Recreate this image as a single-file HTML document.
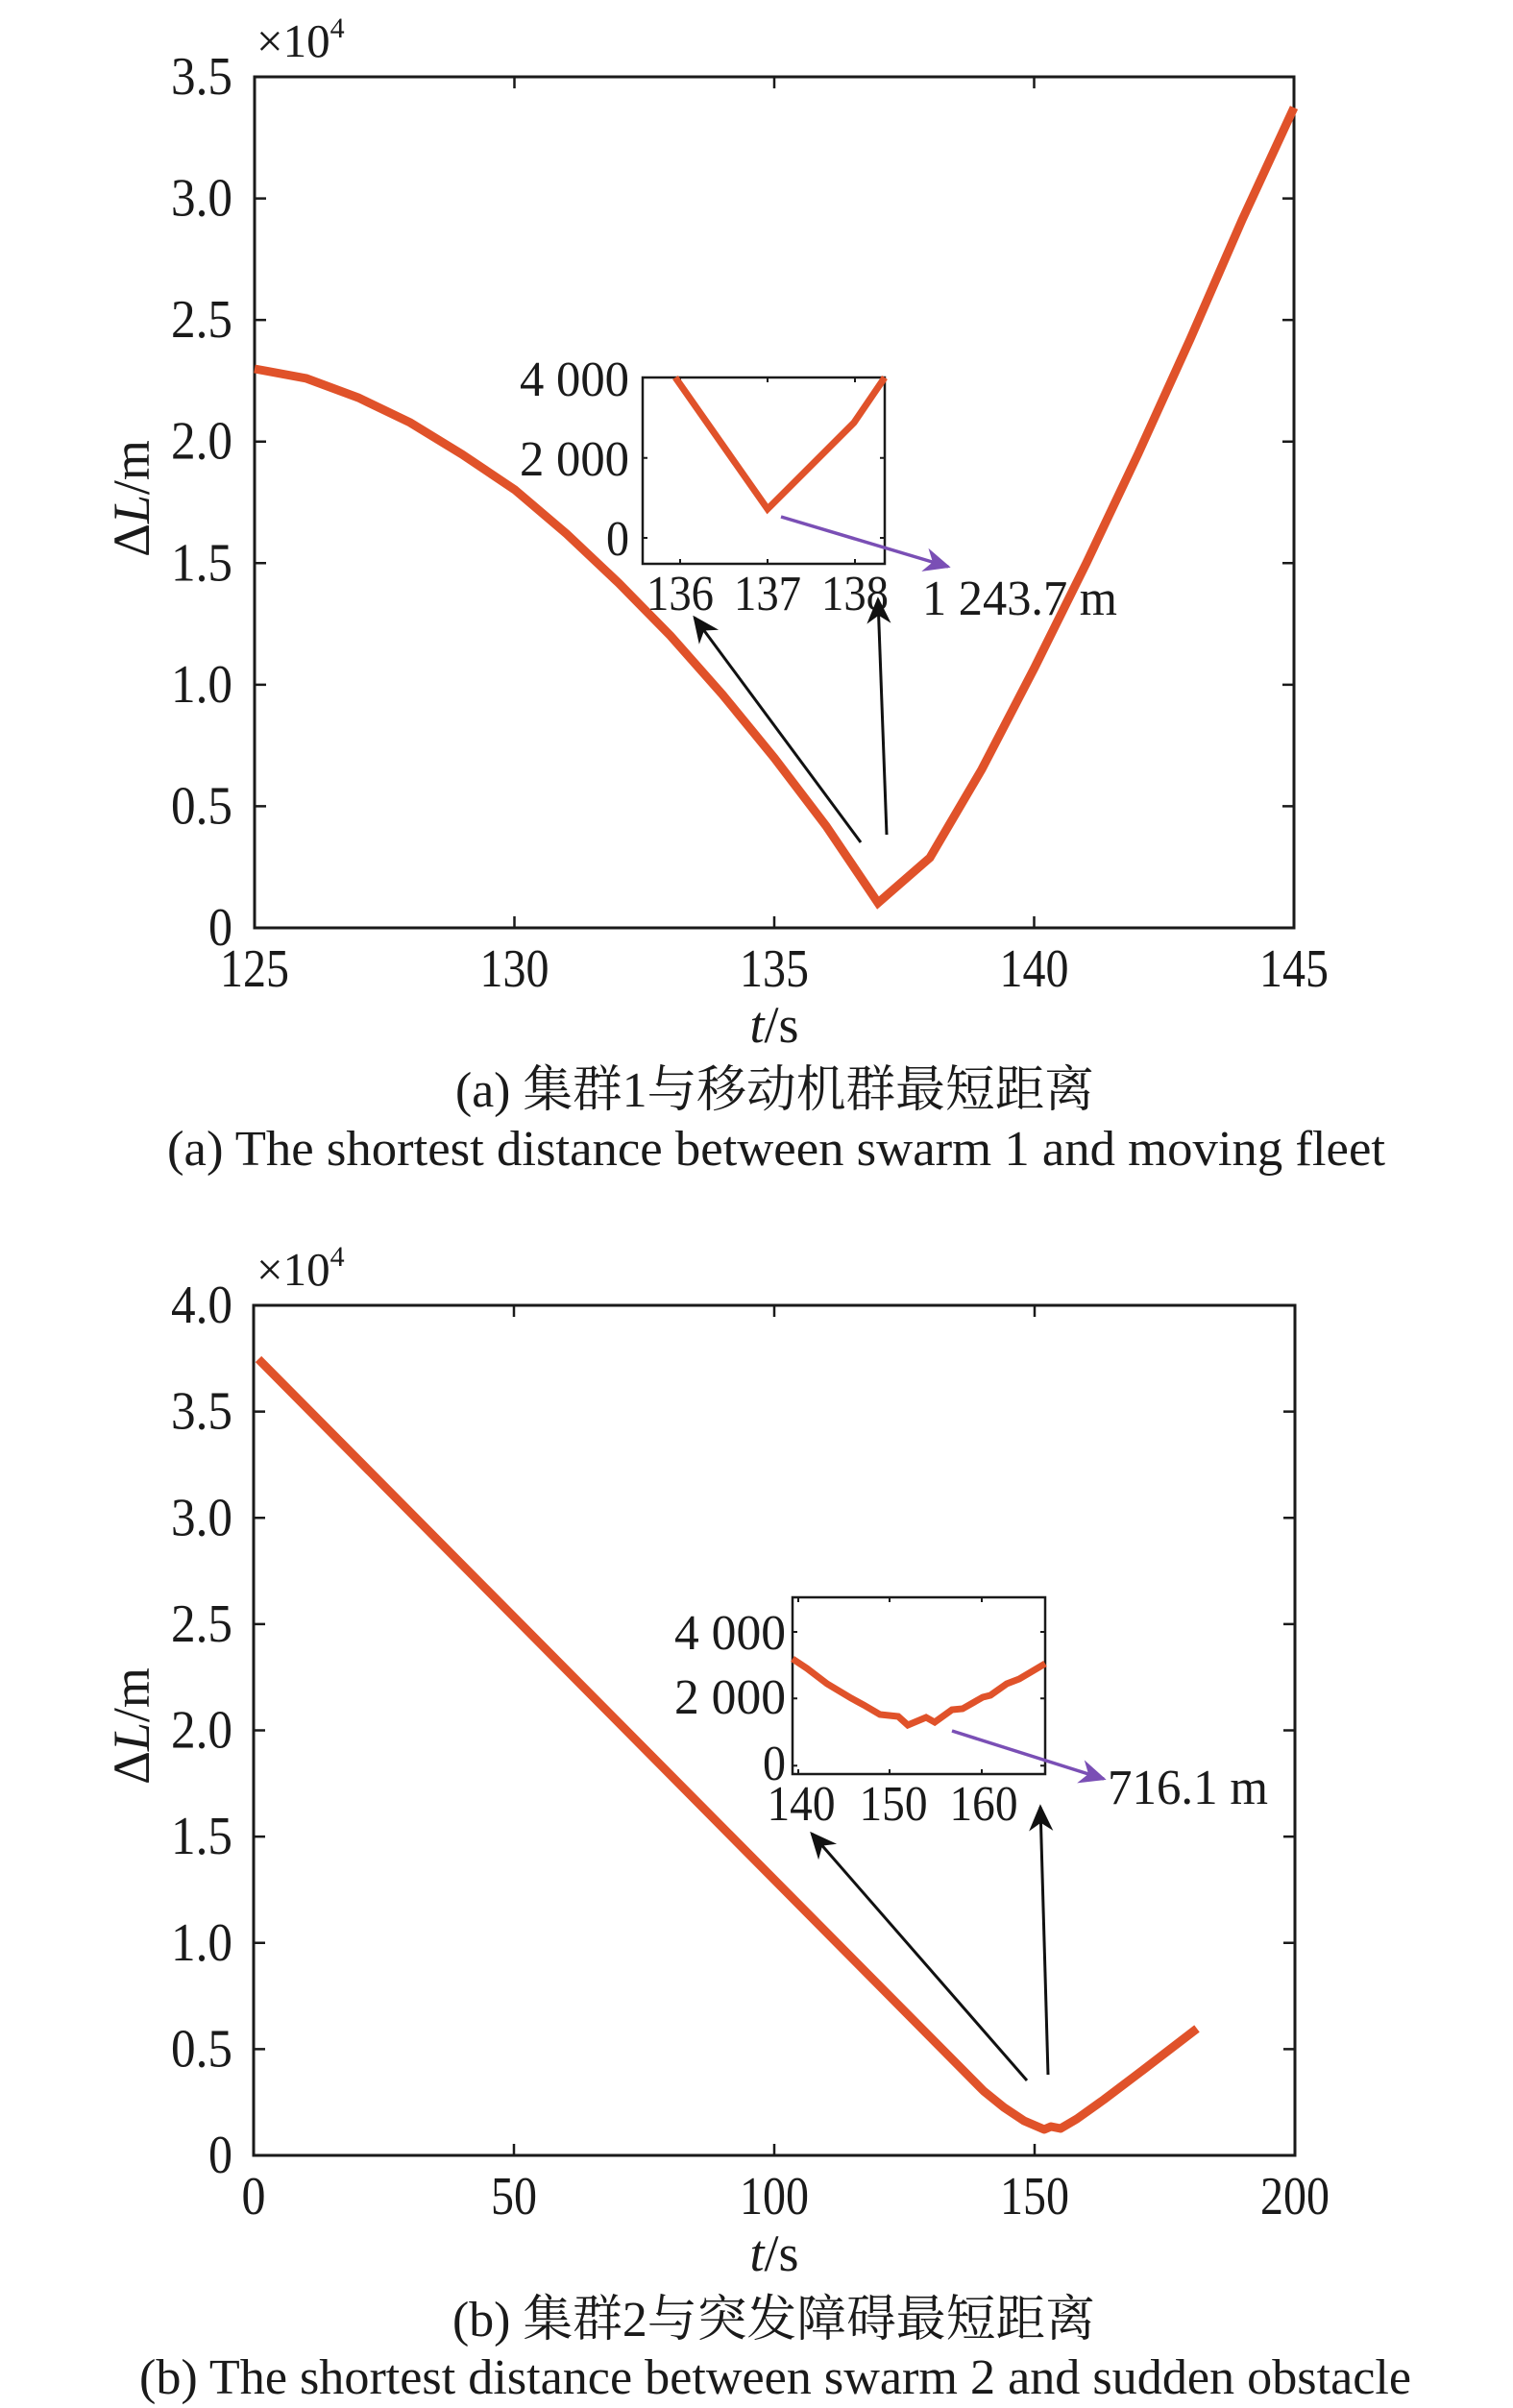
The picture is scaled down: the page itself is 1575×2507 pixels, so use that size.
<!DOCTYPE html>
<html><head><meta charset="utf-8"><style>html,body{margin:0;padding:0;background:#fff}svg{display:block}</style></head>
<body>
<svg width="1575" height="2507" viewBox="0 0 1575 2507" xmlns="http://www.w3.org/2000/svg" font-family="'Liberation Serif','Noto Serif CJK SC',serif" fill="#1a1a1a">
<defs>
<marker id="ab" viewBox="0 0 10 10" refX="9" refY="5" markerWidth="28" markerHeight="28" markerUnits="userSpaceOnUse" orient="auto"><path d="M0,0.5 L10,5 L0,9.5 L3,5z" fill="#111"/></marker>
<marker id="ap" viewBox="0 0 10 10" refX="9" refY="5" markerWidth="28" markerHeight="28" markerUnits="userSpaceOnUse" orient="auto"><path d="M0,0.5 L10,5 L0,9.5 L3,5z" fill="#7a4fb5"/></marker>
</defs>

<!-- ===== PLOT A ===== -->
<rect x="265" y="80" width="1082" height="886" fill="none" stroke="#1a1a1a" stroke-width="3"/>
<g stroke="#1a1a1a" stroke-width="2.5">
<path d="M535.5,966v-12M806,966v-12M1076.5,966v-12M535.5,80v12M806,80v12M1076.5,80v12"/>
<path d="M265,839.4h12M265,712.9h12M265,586.3h12M265,459.7h12M265,333.1h12M265,206.6h12M1347,839.4h-12M1347,712.9h-12M1347,586.3h-12M1347,459.7h-12M1347,333.1h-12M1347,206.6h-12"/>
</g>
<g font-size="56" text-anchor="end">
<text x="242" y="98" textLength="64" lengthAdjust="spacingAndGlyphs">3.5</text>
<text x="242" y="224.6" textLength="64" lengthAdjust="spacingAndGlyphs">3.0</text>
<text x="242" y="351.1" textLength="64" lengthAdjust="spacingAndGlyphs">2.5</text>
<text x="242" y="477.7" textLength="64" lengthAdjust="spacingAndGlyphs">2.0</text>
<text x="242" y="604.3" textLength="64" lengthAdjust="spacingAndGlyphs">1.5</text>
<text x="242" y="730.9" textLength="64" lengthAdjust="spacingAndGlyphs">1.0</text>
<text x="242" y="857.4" textLength="64" lengthAdjust="spacingAndGlyphs">0.5</text>
<text x="242" y="984" textLength="25" lengthAdjust="spacingAndGlyphs">0</text>
</g>
<g font-size="56" text-anchor="middle">
<text x="265" y="1027" textLength="72" lengthAdjust="spacingAndGlyphs">125</text><text x="535.5" y="1027" textLength="72" lengthAdjust="spacingAndGlyphs">130</text><text x="806" y="1027" textLength="72" lengthAdjust="spacingAndGlyphs">135</text><text x="1076.5" y="1027" textLength="72" lengthAdjust="spacingAndGlyphs">140</text><text x="1347" y="1027" textLength="72" lengthAdjust="spacingAndGlyphs">145</text>
</g>
<text x="267" y="59" font-size="49">×10<tspan font-size="30" dy="-20">4</tspan></text>
<text transform="translate(155,519) rotate(-90)" font-size="54" text-anchor="middle">Δ<tspan font-style="italic">L</tspan>/m</text>
<text x="806" y="1085" font-size="54" text-anchor="middle"><tspan font-style="italic">t</tspan>/s</text>
<text x="474" y="1152" font-size="52" textLength="665" lengthAdjust="spacingAndGlyphs">(a) 集群1与移动机群最短距离</text>
<text x="174" y="1213" font-size="52" textLength="1268" lengthAdjust="spacingAndGlyphs">(a) The shortest distance between swarm 1 and  moving fleet</text>

<polyline fill="none" stroke="#e0522a" stroke-width="9" stroke-linejoin="miter" points="265,384 319,394 373,414 427,440 481,473 536,510 590,556 644,607 698,662 752,723 806,789 860,860 914,940 968,893 1022,801 1077,695 1131,586 1185,472 1239,353 1293,229 1347,112"/>

<!-- inset a -->
<rect x="669" y="393" width="252" height="194" fill="#fff" stroke="#1a1a1a" stroke-width="2.5"/>
<g stroke="#1a1a1a" stroke-width="2"><path d="M708,587v-5M799,587v-5M890,587v-5M708,393v5M799,393v5M890,393v5M669,476.7h5M669,560h5M921,476.7h-5M921,560h-5"/></g>
<polyline fill="none" stroke="#e0522a" stroke-width="7" points="703,393 799,530 889,440 921,393"/>
<g font-size="52">
<text x="655" y="412" text-anchor="end" textLength="114" lengthAdjust="spacingAndGlyphs">4 000</text>
<text x="655" y="495" text-anchor="end" textLength="114" lengthAdjust="spacingAndGlyphs">2 000</text>
<text x="655" y="578" text-anchor="end" textLength="24" lengthAdjust="spacingAndGlyphs">0</text>
<text x="673" y="635" textLength="70" lengthAdjust="spacingAndGlyphs">136</text>
<text x="764" y="635" textLength="70" lengthAdjust="spacingAndGlyphs">137</text>
<text x="855" y="635" textLength="70" lengthAdjust="spacingAndGlyphs">138</text>
<text x="960" y="640" textLength="203" lengthAdjust="spacingAndGlyphs">1 243.7 m</text>
</g>
<line x1="813" y1="538" x2="987" y2="590" stroke="#7a4fb5" stroke-width="3.5" marker-end="url(#ap)"/>
<line x1="896" y1="877" x2="723" y2="643" stroke="#111" stroke-width="3" marker-end="url(#ab)"/>
<line x1="923" y1="869" x2="914" y2="624" stroke="#111" stroke-width="3" marker-end="url(#ab)"/>

<!-- ===== PLOT B ===== -->
<rect x="264" y="1359" width="1084" height="885" fill="none" stroke="#1a1a1a" stroke-width="3"/>
<g stroke="#1a1a1a" stroke-width="2.5">
<path d="M535,2244v-12M806,2244v-12M1077,2244v-12M535,1359v12M806,1359v12M1077,1359v12"/>
<path d="M264,2133.4h12M264,2022.8h12M264,1912.1h12M264,1801.5h12M264,1690.9h12M264,1580.3h12M264,1469.6h12M1348,2133.4h-12M1348,2022.8h-12M1348,1912.1h-12M1348,1801.5h-12M1348,1690.9h-12M1348,1580.3h-12M1348,1469.6h-12"/>
</g>
<g font-size="56" text-anchor="end">
<text x="242" y="1377" textLength="64" lengthAdjust="spacingAndGlyphs">4.0</text>
<text x="242" y="1487.6" textLength="64" lengthAdjust="spacingAndGlyphs">3.5</text>
<text x="242" y="1598.3" textLength="64" lengthAdjust="spacingAndGlyphs">3.0</text>
<text x="242" y="1708.9" textLength="64" lengthAdjust="spacingAndGlyphs">2.5</text>
<text x="242" y="1819.5" textLength="64" lengthAdjust="spacingAndGlyphs">2.0</text>
<text x="242" y="1930.1" textLength="64" lengthAdjust="spacingAndGlyphs">1.5</text>
<text x="242" y="2040.8" textLength="64" lengthAdjust="spacingAndGlyphs">1.0</text>
<text x="242" y="2151.4" textLength="64" lengthAdjust="spacingAndGlyphs">0.5</text>
<text x="242" y="2262" textLength="25" lengthAdjust="spacingAndGlyphs">0</text>
</g>
<g font-size="56" text-anchor="middle">
<text x="264" y="2305" textLength="25" lengthAdjust="spacingAndGlyphs">0</text><text x="535" y="2305" textLength="48" lengthAdjust="spacingAndGlyphs">50</text><text x="806" y="2305" textLength="72" lengthAdjust="spacingAndGlyphs">100</text><text x="1077" y="2305" textLength="72" lengthAdjust="spacingAndGlyphs">150</text><text x="1348" y="2305" textLength="72" lengthAdjust="spacingAndGlyphs">200</text>
</g>
<text x="267" y="1338" font-size="49">×10<tspan font-size="30" dy="-20">4</tspan></text>
<text transform="translate(155,1797) rotate(-90)" font-size="54" text-anchor="middle">Δ<tspan font-style="italic">L</tspan>/m</text>
<text x="806" y="2364" font-size="54" text-anchor="middle"><tspan font-style="italic">t</tspan>/s</text>
<text x="471" y="2432" font-size="52" textLength="669" lengthAdjust="spacingAndGlyphs">(b) 集群2与突发障碍最短距离</text>
<text x="145" y="2492" font-size="52" textLength="1324" lengthAdjust="spacingAndGlyphs">(b) The shortest distance between swarm 2 and sudden obstacle</text>

<polyline fill="none" stroke="#e0522a" stroke-width="9" stroke-linejoin="round" points="269,1415 1024,2177 1045,2194 1066,2208 1087,2217 1094,2214 1104,2216 1121,2206 1149,2186 1190,2155 1246,2112"/>

<!-- inset b -->
<rect x="825" y="1663" width="263" height="184" fill="#fff" stroke="#1a1a1a" stroke-width="2.5"/>
<g stroke="#1a1a1a" stroke-width="2"><path d="M831,1847v-5M926,1847v-5M1022,1847v-5M831,1663v5M926,1663v5M1022,1663v5M825,1699h5M825,1768.3h5M825,1838.3h5M1088,1699h-5M1088,1768.3h-5M1088,1838.3h-5"/></g>
<polyline fill="none" stroke="#e0522a" stroke-width="7" points="825,1727 840,1737 861,1753 886,1768 899,1775 916,1785 935,1787 945,1796 964,1788 973,1793 991,1780 1002,1779 1023,1767 1031,1765 1048,1753 1061,1748 1088,1732"/>
<g font-size="52">
<text x="818" y="1717" text-anchor="end" textLength="116" lengthAdjust="spacingAndGlyphs">4 000</text>
<text x="818" y="1784" text-anchor="end" textLength="116" lengthAdjust="spacingAndGlyphs">2 000</text>
<text x="818" y="1853" text-anchor="end" textLength="24" lengthAdjust="spacingAndGlyphs">0</text>
<text x="834" y="1895" text-anchor="middle" textLength="71" lengthAdjust="spacingAndGlyphs">140</text>
<text x="930" y="1895" text-anchor="middle" textLength="71" lengthAdjust="spacingAndGlyphs">150</text>
<text x="1024" y="1895" text-anchor="middle" textLength="71" lengthAdjust="spacingAndGlyphs">160</text>
<text x="1153" y="1878" textLength="167" lengthAdjust="spacingAndGlyphs">716.1 m</text>
</g>
<line x1="991" y1="1802" x2="1149" y2="1852" stroke="#7a4fb5" stroke-width="3.5" marker-end="url(#ap)"/>
<line x1="1069" y1="2166" x2="845" y2="1909" stroke="#111" stroke-width="3" marker-end="url(#ab)"/>
<line x1="1091" y1="2160" x2="1083" y2="1881" stroke="#111" stroke-width="3" marker-end="url(#ab)"/>
</svg>
</body></html>
